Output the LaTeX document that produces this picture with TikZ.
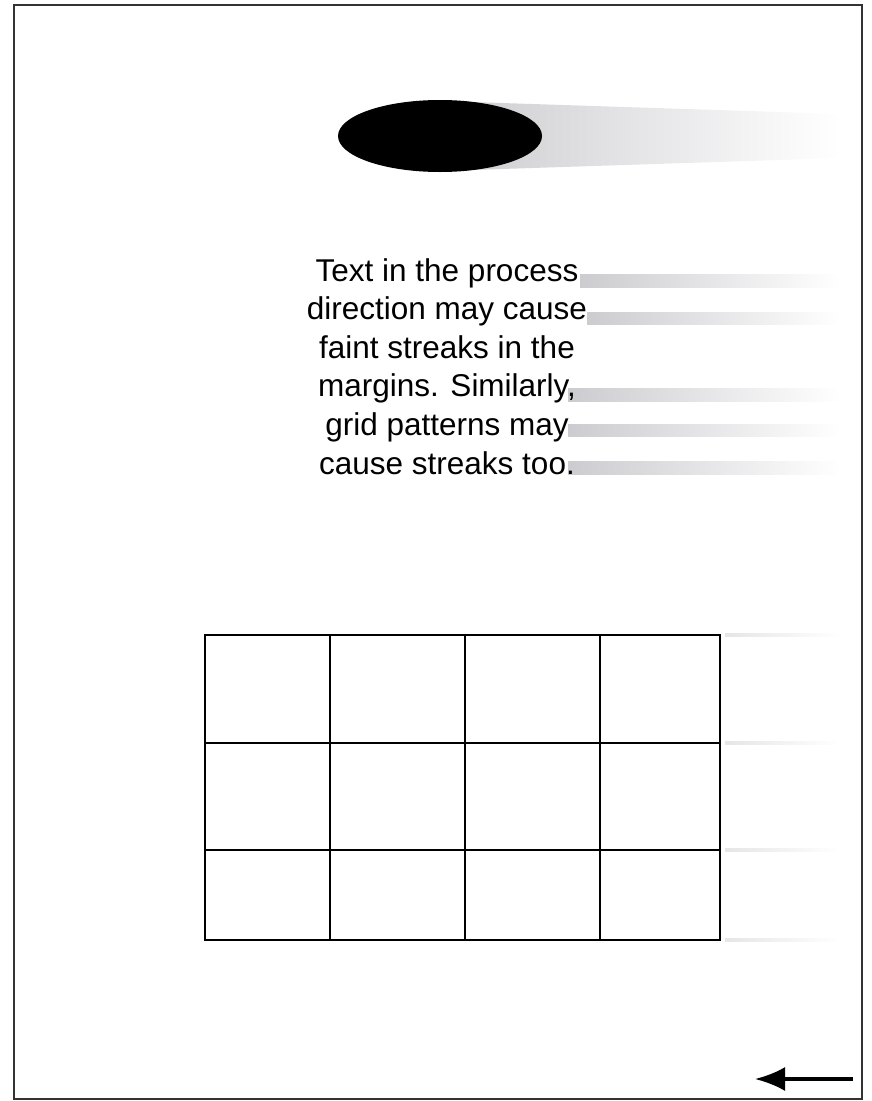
\documentclass[tikz,border=0pt]{standalone}
\usepackage{fontspec}
\setmainfont{Liberation Sans}
\usetikzlibrary{arrows.meta,positioning,shapes.geometric}

\begin{document}
\begin{tikzpicture}[
  x=1pt, y=-1pt,
  page/.style={draw=black!80, line width=2pt},
  cell/.style={draw, line width=1.9pt},
  streak/.style={left color=blue!8!black!20, right color=white, draw=none},
  faint/.style={left color=black!10, right color=white, draw=none},
  blob/.style={ellipse, fill=black, draw=none, minimum width=204pt, minimum height=72pt, inner sep=0pt},
  msg/.style={align=center, font=\fontsize{31.5}{38.6}\selectfont, inner sep=0pt},
  arr/.style={-{Latex[length=30pt, width=24pt]}, line width=3.5pt}
]
  \useasboundingbox (0,0) rectangle (871,1101);

  % page outline
  \draw[page] (14,5) rectangle (862,1099);

  % blob with its smear
  \shade[streak] (440,101) -- (840,114) -- (840,158) -- (440,171) -- cycle;
  \node[blob] (spot) at (440,136) {};

  % text lines and their streaks
  \shade[streak] (580,274) rectangle (840,287);
  \shade[streak] (587,312) rectangle (840,324);
  \shade[streak] (568,388) rectangle (840,401);
  \shade[streak] (568,424) rectangle (840,436);
  \shade[streak] (568,461) rectangle (840,474);
  \node[msg, anchor=north] (note) at (447,258) {Text in the process\\direction may cause\\faint streaks in the\\margins. Similarly,\\grid patterns may\\cause streaks too.};

  % grid
  \draw[cell] (205,635) rectangle (720,940);
  \foreach \x in {330,465,600}
    \draw[cell] (\x,635) -- (\x,940);
  \foreach \y in {743,850}
    \draw[cell] (205,\y) -- (720,\y);
  \foreach \y in {635,743,850,940}
    \shade[faint] (725,\y-1.5) rectangle (840,\y+1.5);

  % process direction
  \coordinate (tail) at (853,1079);
  \coordinate (tip) at (755,1079);
  \draw[arr] (tail) -- (tip);
\end{tikzpicture}
\end{document}
